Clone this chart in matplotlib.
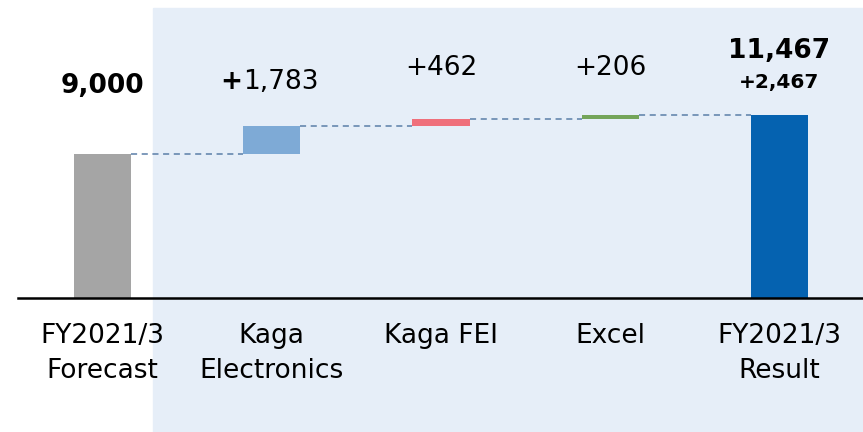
import numpy as np
import matplotlib
matplotlib.use("Agg")
import matplotlib.pyplot as plt
from matplotlib.patches import Rectangle

plt.rcParams['font.family'] = ['DejaVu Sans']

categories = ["FY2021/3\nForecast", "Kaga\nElectronics", "Kaga FEI", "Excel", "FY2021/3\nResult"]
start_value = 9000
deltas = [1783, 462, 206]
result_value = 11467
result_change = "+2,467"
colors = ["#a5a5a5", "#7eaad6", "#ef6f7b", "#74a55a", "#0562b0"]

fig = plt.figure(figsize=(8.63, 4.32), dpi=100)

# light blue panel behind everything except the forecast column
fig.patches.append(Rectangle((153 / 863, 0), 1 - 153 / 863, 424 / 432,
                             transform=fig.transFigure, color="#e6eef8", zorder=0))

ax = fig.add_axes([18 / 863, 134 / 432, 846 / 863, 298 / 432])
ax.set_facecolor("none")
ax.set_zorder(1)

w = 0.337
x = np.arange(len(categories))
levels = start_value + np.concatenate([[0], np.cumsum(deltas)])

# bars
ax.bar(x[0], start_value, width=w, color=colors[0], zorder=3)
for i, d in enumerate(deltas):
    ax.bar(x[i + 1], d, bottom=levels[i], width=w, color=colors[i + 1], zorder=3)
ax.bar(x[-1], result_value, width=w, color=colors[-1], zorder=3)

# dashed connectors
for i in range(len(levels)):
    ax.plot([x[i] + w / 2, x[i + 1] - w / 2], [levels[i], levels[i]],
            color="#5b7fa8", lw=1.1, ls=(0, (4, 3)), zorder=2)

# value labels
ax.text(x[0], 13280, f"{start_value:,}", ha="center", va="center",
        fontsize=19, fontweight="bold")
ax.text(x[1] - 0.175, 13530, "+", ha="right", va="center",
        fontsize=19, fontweight="bold")
ax.text(x[1] - 0.17, 13530, f"{deltas[0]:,}", ha="left", va="center", fontsize=19)
ax.text(x[2], 14400, f"+{deltas[1]:,}", ha="center", va="center", fontsize=19)
ax.text(x[3], 14400, f"+{deltas[2]:,}", ha="center", va="center", fontsize=19)
ax.text(x[4], 15500, f"{result_value:,}", ha="center", va="center",
        fontsize=19, fontweight="bold")
ax.text(x[4], 13500, result_change, ha="center", va="center",
        fontsize=14.5, fontweight="bold")

ax.set_xlim(-0.5, 4.5)
ax.set_ylim(0, 18672)
ax.set_xticks(x)
ax.set_xticklabels(categories, fontsize=19, linespacing=1.45)
ax.tick_params(axis="x", length=0, pad=18)
ax.set_yticks([])
for s in ["top", "right", "left"]:
    ax.spines[s].set_visible(False)
ax.spines["bottom"].set_linewidth(1.8)
ax.spines["bottom"].set_zorder(4)

fig.savefig("out.png", dpi=100)
